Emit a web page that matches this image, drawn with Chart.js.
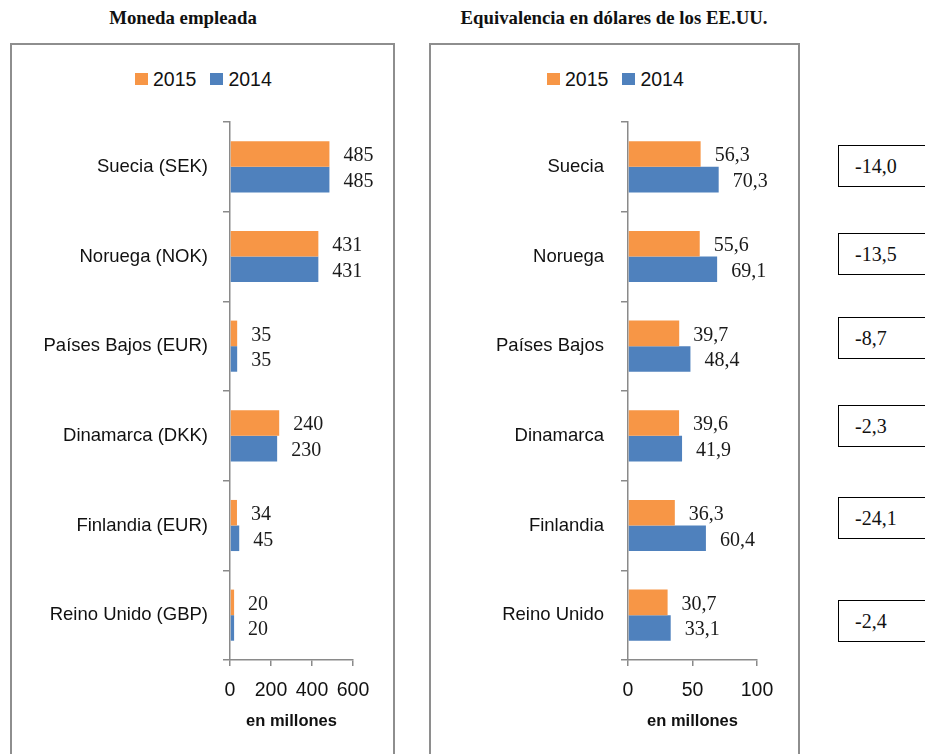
<!DOCTYPE html>
<html lang="es">
<head>
<meta charset="utf-8">
<title>Moneda empleada / Equivalencia en dólares de los EE.UU.</title>
<script src="https://cdn.jsdelivr.net/npm/chart.js@4.4.1/dist/chart.umd.min.js"></script>
<style>
  html, body { margin: 0; padding: 0; background: #fff; }
  body { width: 925px; height: 754px; position: relative; overflow: hidden; font-family: "Liberation Sans", Arial, sans-serif; }
  .titulo { position: absolute; top: 7px; font: bold 18.8px "Liberation Serif", "Times New Roman", serif; color: #111; white-space: nowrap; transform: translateX(-50%); }
  .panel { position: absolute; top: 43px; height: 740px; border: 2px solid #8e8e8e; box-sizing: border-box; }
  .leyenda { position: absolute; top: 67px; display: flex; align-items: center; font-size: 19.5px; line-height: 24px; color: #111; }
  .leyenda i { display: inline-block; width: 13px; height: 12px; margin-right: 5px; }
  .leyenda span + i { margin-left: 14px; }
  canvas { position: absolute; top: 45px; }
  .caja { position: absolute; left: 838px; width: 110px; height: 42px; border: 1px solid #000; box-sizing: border-box;
          padding-left: 16px; font: 20px "Liberation Serif", "Times New Roman", serif; line-height: 40px; color: #111; }
</style>
</head>
<body>
<div class="titulo" style="left:183px">Moneda empleada</div>
<div class="titulo" style="left:614px">Equivalencia en dólares de los EE.UU.</div>

<div class="panel" style="left:10px; width:385px"></div>
<div class="panel" style="left:429px; width:371px"></div>

<div class="leyenda" style="left:135px"><i style="background:#F79646"></i><span>2015</span><i style="background:#4F81BD"></i><span>2014</span></div>
<div class="leyenda" style="left:547px"><i style="background:#F79646"></i><span>2015</span><i style="background:#4F81BD"></i><span>2014</span></div>

<canvas id="moneda" width="381" height="709" style="left:12px"></canvas>
<canvas id="dolares" width="367" height="709" style="left:431px"></canvas>

<div id="cajas"></div>

<script>
const categoriasMoneda = ["Suecia (SEK)", "Noruega (NOK)", "Países Bajos (EUR)", "Dinamarca (DKK)", "Finlandia (EUR)", "Reino Unido (GBP)"];
const categoriasDolares = ["Suecia", "Noruega", "Países Bajos", "Dinamarca", "Finlandia", "Reino Unido"];
const moneda2015 = [485, 431, 35, 240, 34, 20];
const moneda2014 = [485, 431, 35, 230, 45, 20];
const dolares2015 = [56.3, 55.6, 39.7, 39.6, 36.3, 30.7];
const dolares2014 = [70.3, 69.1, 48.4, 41.9, 60.4, 33.1];
const variacion = [-14.0, -13.5, -8.7, -2.3, -24.1, -2.4];

// posicion vertical de las cajas de variacion (px)
const cajaArriba = [145, 233, 317, 405, 497, 600];

const SANS = '"Liberation Sans", Arial, sans-serif';
const SERIF = '"Liberation Serif", "Times New Roman", serif';
const GRIS = '#8a8a8a';
const coma = v => v.toFixed(1).replace('.', ',');

function etiquetas(fmt) {
  return {
    id: 'etiquetas',
    afterDatasetsDraw(chart) {
      const ctx = chart.ctx;
      ctx.save();
      ctx.font = '20px ' + SERIF;
      ctx.fillStyle = '#1a1a1a';
      ctx.textBaseline = 'middle';
      chart.data.datasets.forEach((ds, i) => {
        chart.getDatasetMeta(i).data.forEach((bar, j) => {
          ctx.fillText(fmt(ds.data[j]), bar.x + 14, bar.y + 2);
        });
      });
      ctx.restore();
    }
  };
}

function crearGrafico(id, categorias, d2015, d2014, maxX, paso, anchoEje, sep, derecha, fmt) {
  return new Chart(document.getElementById(id), {
    type: 'bar',
    data: {
      labels: categorias,
      datasets: [
        { label: '2015', data: d2015, backgroundColor: '#F79646' },
        { label: '2014', data: d2014, backgroundColor: '#4F81BD' }
      ]
    },
    options: {
      indexAxis: 'y',
      responsive: false,
      animation: false,
      categoryPercentage: 0.57,
      barPercentage: 1.0,
      layout: { padding: { top: 77, right: derecha, bottom: 0, left: 0 } },
      plugins: { legend: { display: false }, tooltip: { enabled: false } },
      scales: {
        x: {
          min: 0, max: maxX,
          ticks: { stepSize: paso, color: '#111', font: { size: 19.5, family: SANS }, padding: 13, maxRotation: 0 },
          grid: { drawOnChartArea: false, tickLength: 6, color: GRIS, lineWidth: 1.5 },
          border: { color: GRIS, width: 1.5 },
          title: { display: true, text: 'en millones', color: '#111',
                   font: { size: 16.5, weight: 'bold', family: SANS }, padding: { top: 0, bottom: 23 } },
          afterFit(s) { s.height = 94; }
        },
        y: {
          ticks: { color: '#111', font: { size: 18.5, family: SANS }, padding: sep },
          grid: { drawOnChartArea: false, tickLength: 7, color: GRIS, lineWidth: 1.5, offset: true },
          border: { color: GRIS, width: 1.5 },
          afterFit(s) { s.width = anchoEje; }
        }
      }
    },
    plugins: [etiquetas(fmt)]
  });
}

crearGrafico('moneda', categoriasMoneda, moneda2015, moneda2014, 600, 200, 218, 15, 40, v => String(v));
crearGrafico('dolares', categoriasDolares, dolares2015, dolares2014, 100, 50, 197, 17, 41, coma);

const cajas = document.getElementById('cajas');
variacion.forEach((v, i) => {
  const d = document.createElement('div');
  d.className = 'caja';
  d.style.top = cajaArriba[i] + 'px';
  d.textContent = coma(v);
  cajas.appendChild(d);
});
</script>
</body>
</html>
